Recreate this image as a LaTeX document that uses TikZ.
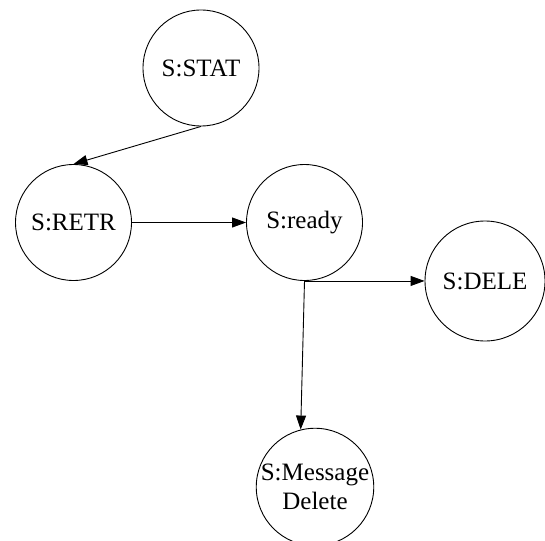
\documentclass[tikz,border=0pt]{standalone}
\usepackage{fontspec}
\setmainfont{Liberation Serif}
\usetikzlibrary{arrows.meta}
\begin{document}
\begin{tikzpicture}[x=1pt,y=-1pt,
  state/.style={draw,circle,line width=0.9pt,minimum size=116pt,inner sep=0pt,
    align=center,font=\fontsize{25}{29}\selectfont},
  link/.style={draw,line width=0.9pt,-{Triangle[length=14pt,width=10pt]}}]
  \useasboundingbox (0,0) rectangle (545,540);
  \begin{scope}
    \clip (0,0) rectangle (545,540);
    \node[state] (stat)  at (201,68)    {S:STAT};
    \node[state] (retr)  at (73.5,222.5) {S:RETR};
    \node[state] (ready) at (304.5,222.5) {S:ready};
    \node[state,minimum size=120pt] (dele) at (485,281) {S:DELE};
    \node[state] (msg)   at (315,487)   {S:Message\\Delete};
  \end{scope}
  \draw[link] (stat.south) -- (retr.north);
  \draw[link] (retr.east) -- (ready.west);
  \draw[link] (ready.south) -- (ready.south -| dele.west);
  \draw[link] (ready.south) -- (msg.104);
\end{tikzpicture}
\end{document}
